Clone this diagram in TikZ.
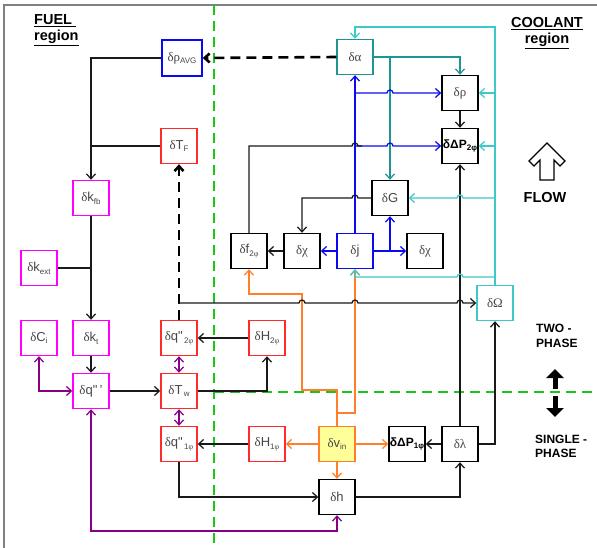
\documentclass[tikz,border=0pt]{standalone}
\usepackage{fontspec}
\setmainfont{Liberation Sans}
\newfontfamily\serifgk{Liberation Serif}
\usetikzlibrary{arrows.meta}
\definecolor{cmag}{HTML}{FF00FF}
\definecolor{cred}{HTML}{FF2A2A}
\definecolor{cblue}{HTML}{0A0AF0}
\definecolor{cteal}{HTML}{1F9494}
\definecolor{ccyan}{HTML}{3EC8C8}
\definecolor{corange}{HTML}{FF7F2A}
\definecolor{cpurple}{HTML}{880088}
\definecolor{cyel}{HTML}{FFFF99}
\definecolor{cgreen}{HTML}{1DC41D}
\definecolor{cframe}{HTML}{808080}
\newcommand{\gk}[1]{{\serifgk #1}}
\newcommand{\sbs}[1]{\raisebox{-2.8pt}{\fontsize{8}{9}\selectfont #1}}
\begin{document}
\begin{tikzpicture}[x=1pt,y=-1pt,
  bx/.style={draw, line width=1.4pt, fill=white, minimum width=36pt, minimum height=35pt, inner sep=0pt, text=black!72, font=\fontsize{13}{15}\selectfont},
  ln/.style={line width=1.25pt, draw=black!90},
  arr/.style={-{Straight Barb[length=5pt,width=9pt]}},
  dbl/.style={{Straight Barb[length=5pt,width=9pt]}-{Straight Barb[length=5pt,width=9pt]}},
  pl/.style={line width=1.25pt, draw=cpurple},
  orl/.style={line width=1.25pt, draw=corange},
  bll/.style={line width=1.25pt, draw=cblue},
  tll/.style={line width=1.25pt, draw=cteal},
  cyl/.style={line width=1.25pt, draw=ccyan},
  thdash/.style={line width=2.6pt, draw=black, dash pattern=on 10pt off 6pt},
  gdash/.style={line width=2pt, draw=cgreen, dash pattern=on 10pt off 6pt},
  lbl/.style={font=\bfseries\fontsize{14.5}{16}\selectfont, inner sep=0pt},
  lbs/.style={font=\bfseries\fontsize{12}{14}\selectfont, inner sep=0pt, anchor=base west}
]
\useasboundingbox (0,0) rectangle (597,548);
% frame and region separators
\draw[cframe, line width=1.6pt] (4,548) -- (4,5) -- (597,5);
\draw[gdash] (214,5) -- (214,548);
\draw[gdash] (214,392) -- (597,392);

% nodes
\node[bx, draw=cblue, minimum width=40pt, minimum height=36pt] (rhoavg) at (182,58) {\gk{δρ}\sbs{AVG}};
\node[bx, draw=cred] (TF) at (179,146) {\gk{δ}T\sbs{F}};
\node[bx, draw=cmag] (kfb) at (91,198) {\gk{δ}k\sbs{fb}};
\node[bx, draw=cmag] (kext) at (39,268) {\gk{δ}k\sbs{ext}};
\node[bx, draw=cmag] (Ci) at (39,338) {\gk{δ}C\sbs{i}};
\node[bx, draw=cmag] (kt) at (91,338) {\gk{δ}k\sbs{t}};
\node[bx, draw=cmag] (q3) at (91,391) {\gk{δ}q\textquotedbl\,\textquoteright};
\node[bx, draw=cred] (q2) at (179,338) {\gk{δ}q\textquotedbl\sbs{\,2\gk{φ}}};
\node[bx, draw=cred] (Tw) at (179,391) {\gk{δ}T\sbs{\,w}};
\node[bx, draw=cred] (q1) at (179,444) {\gk{δ}q\textquotedbl\sbs{\,1\gk{φ}}};
\node[bx, draw=cred] (H2) at (267,338) {\gk{δ}H\sbs{2\gk{φ}}};
\node[bx, draw=cred] (H1) at (267,444) {\gk{δ}H\sbs{1\gk{φ}}};
\node[bx, draw=corange, fill=cyel] (vin) at (337,444) {\gk{δ}v\sbs{in}};
\node[bx] (h) at (337,497) {\gk{δ}h};
\node[bx, text=black, font=\fontsize{12}{14}\selectfont] (dP1) at (407,444) {\bfseries δΔP\sbs{\bfseries 1φ}};
\node[bx] (lam) at (460,444) {\gk{δλ}};
\node[bx, draw=ccyan] (Om) at (495,303) {\gk{δΩ}};
\node[bx] (f2) at (249,251) {\gk{δ}f\sbs{2\gk{φ}}};
\node[bx] (chiL) at (302,251) {\gk{δχ}};
\node[bx, draw=cblue] (j) at (355,251) {\gk{δ}j};
\node[bx] (chiR) at (425,251) {\gk{δχ}};
\node[bx] (G) at (390,198) {\gk{δ}G};
\node[bx, draw=cteal] (alpha) at (355,57) {\gk{δα}};
\node[bx] (rho) at (460,93) {\gk{δρ}};
\node[bx, text=black, font=\fontsize{12}{14}\selectfont] (dP2) at (460,146) {\bfseries δΔP\sbs{\bfseries 2φ}};

\coordinate (jq) at (179,303);
\coordinate (pb) at (91,531);

% fuel side connectors
\draw[thdash, arr] (alpha.west) -- (rhoavg.east);
\draw[ln, arr] (rhoavg.west) -| (kfb.north);
\draw[ln] (TF.west) -- (TF.west -| kfb.north);
\draw[ln, arr] (kfb.south) -- (kt.north);
\draw[ln] (kext.east) -- (kext.east -| kfb.south);
\draw[ln, arr] (kt.south) -- (q3.north);
\draw[pl, dbl] (Ci.south) |- (q3.west);
\draw[ln, arr] (q3.east) -- (Tw.west);
\draw[pl, dbl] (q3.south) -- (pb) -| (h.south);
\draw[pl, dbl] (q2.south) -- (Tw.north);
\draw[pl, dbl] (Tw.south) -- (q1.north);
\draw[ln, arr] (H2.west) -- (q2.east);
\draw[ln, arr] (Tw.east) -| (H2.south);
\draw[ln, arr] (H1.west) -- (q1.east);
\draw[thdash, arr] (q2.north) -- (TF.south);
\draw[ln, arr] (q1.south) |- (h.west);

% orange
\draw[orl, arr] (vin.west) -- (H1.east);
\draw[orl, arr] (vin.east) -- (dP1.west);
\draw[orl, arr] (vin.south) -- (h.north);
\draw[orl, arr] (vin.north) -- (337,390) -- (302,390) -- (302,294) -| (f2.south);
\draw[orl, arr] (337,413) -| (j.south);

% black lower right
\draw[ln, arr] (h.east) -| (lam.south);
\draw[ln, arr] (lam.west) -- (dP1.east);
\draw[ln, arr] (lam.east) -| (Om.south);
\draw[ln, arr] (lam.north) -- (dP2.south);
\draw[ln, arr] (rho.south) -- (dP2.north);

% teal
\draw[tll, arr] (alpha.east) -| (rho.north);
\draw[tll, arr] (390,57) -- (G.north);

% blue
\draw[bll, arr] (j.north) -- (alpha.south);
\draw[bll, arr] (355,93) -- (387,93) arc[start angle=180,end angle=360,radius=3] -- (rho.west);
\draw[bll, arr] (355,146) -- (387,146) arc[start angle=180,end angle=360,radius=3] -- (dP2.west);
\draw[bll, arr] (j.west) -- (chiL.east);
\draw[bll, arr] (j.east) -- (chiR.west);
\draw[bll, arr] (390,251) -- (G.south);

% cyan
\draw[cyl, arr] (Om.north) -- (495,27) -| (alpha.north);
\draw[cyl, arr] (495,93) -- (rho.east);
\draw[cyl, arr] (495,146) -- (dP2.east);
\draw[cyl, arr] (495,198) -- (463,198) arc[start angle=0,end angle=-180,radius=3] -- (G.east);
\draw[cyl, arr] (495,277) -- (463,277) arc[start angle=0,end angle=-180,radius=3] -- (355,277) -- (j.south);

% black with jumps
\draw[ln, arr] (G.west) -- (358,198) arc[start angle=0,end angle=-180,radius=3] -| (chiL.north);
\draw[ln, arr] (chiL.west) -- (f2.east);
\draw[ln] (f2.north) |- (352,146) arc[start angle=180,end angle=360,radius=3] -- (362,146);
\draw[ln, arr] (jq) -- (299,303) arc[start angle=180,end angle=360,radius=3]
  -- (352,303) arc[start angle=180,end angle=360,radius=3]
  -- (457,303) arc[start angle=180,end angle=360,radius=3] -- (Om.west);

% region labels
\node[lbl, anchor=base west] (fuel1) at (34,25) {\underline{FUEL\ }};
\node[lbl, anchor=base west] (fuel2) at (34,41) {\underline{region}};
\node[lbl, anchor=base] (cool1) at (547,28) {\underline{COOLANT}};
\node[lbl, anchor=base] (cool2) at (547,44) {\underline{region}};
\node[lbl, anchor=base] (flow) at (545,203) {FLOW};
\node[lbs] (two1) at (536,332) {TWO -};
\node[lbs] (two2) at (536,347) {PHASE};
\node[lbs] (sng1) at (535,443) {SINGLE -};
\node[lbs] (sng2) at (535,457) {PHASE};

% flow arrow
\draw[line width=1.1pt, fill=white] (547,143) -- (565,161) -- (560,166) -- (554,160) -- (554,180)
  -- (540,180) -- (540,160) -- (534,166) -- (529,161) -- cycle;
% phase arrows
\draw[line width=5pt, -{Triangle[length=9pt,width=17pt]}] (555,389) -- (555,369);
\draw[line width=5pt, -{Triangle[length=9pt,width=17pt]}] (555,396) -- (555,417);
\end{tikzpicture}
\end{document}
